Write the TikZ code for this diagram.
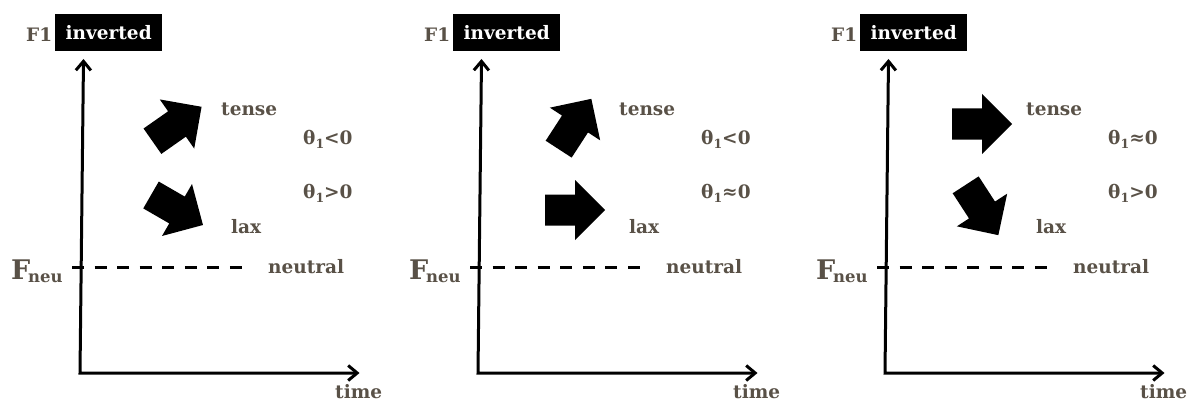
\documentclass[tikz,border=0pt]{standalone}
\usepackage{fontspec}
\setmainfont{DejaVu Serif}
\usetikzlibrary{arrows.meta}
\definecolor{textc}{RGB}{89,81,71}
\newcommand{\subone}{\raisebox{-4.5pt}{\fontsize{12.5}{13}\selectfont 1}}
\tikzset{
  x=1pt, y=-1pt,
  lbl/.style={text=textc, font=\fontsize{18.5}{22}\selectfont\bfseries, inner sep=0pt, anchor=base west},
  bignode/.style={text=textc, font=\fontsize{27}{30}\selectfont\bfseries, inner sep=0pt, anchor=base west},
  subnode/.style={text=textc, font=\fontsize{16.5}{18}\selectfont\bfseries, inner sep=0pt, anchor=base west},
  boxnode/.style={fill=black, text=white, font=\fontsize{18.5}{22}\selectfont\bfseries, inner sep=0pt, minimum width=107pt, minimum height=37pt, anchor=north west},
  axisline/.style={line width=3pt, line join=miter, {Straight Barb[length=9pt,width=15pt]}-{Straight Barb[length=9pt,width=15pt]}},
  neuline/.style={line width=3pt, dash pattern=on 12pt off 10.57pt},
  barrow/.pic={\fill[black] (-30,-15.5) -- (0,-15.5) -- (0,-30) -- (30,0) -- (0,30) -- (0,15.5) -- (-30,15.5) -- cycle;}
}
\begin{document}
\begin{tikzpicture}
\useasboundingbox (0,0) rectangle (1190,401);
\foreach \s/\p/\au/\al/\tu/\tl in {0/a/35/-30/{<0}/{>0}, 398/b/57/0/{<0}/{≈0}, 805/c/0/-57/{≈0}/{>0}}{
\begin{scope}[xshift=\s pt]
  \node[lbl] (f1\p) at (26,42) {F1};
  \node[boxnode] (box\p) at (55,14) {inverted};
  \coordinate (top\p) at (83.5,59);
  \coordinate (o\p) at (80,373);
  \coordinate (rt\p) at (359.5,373);
  \draw[axisline] (top\p) -- (o\p) -- (rt\p);
  \coordinate (d1\p) at (72,267);
  \coordinate (d2\p) at (242,267);
  \draw[neuline] (d1\p) -- (d2\p);
  \pic[rotate=\au] (up\p) at (177,124) {barrow};
  \pic[rotate=\al] (lo\p) at (177,210) {barrow};
  \node[lbl] (tense\p) at (221,116) {tense};
  \node[lbl] (lax\p) at (231,233) {lax};
  \node[lbl] (neutral\p) at (268,273) {neutral};
  \node[lbl] (time\p) at (335,398) {time};
  \node[lbl] (thu\p) at (303,144) {θ\subone\tu};
  \node[lbl] (thl\p) at (303,198) {θ\subone\tl};
  \node[bignode] (F\p) at (11,279) {F};
  \node[subnode] (neu\p) at (28,282) {neu};
\end{scope}
}
\end{tikzpicture}
\end{document}
